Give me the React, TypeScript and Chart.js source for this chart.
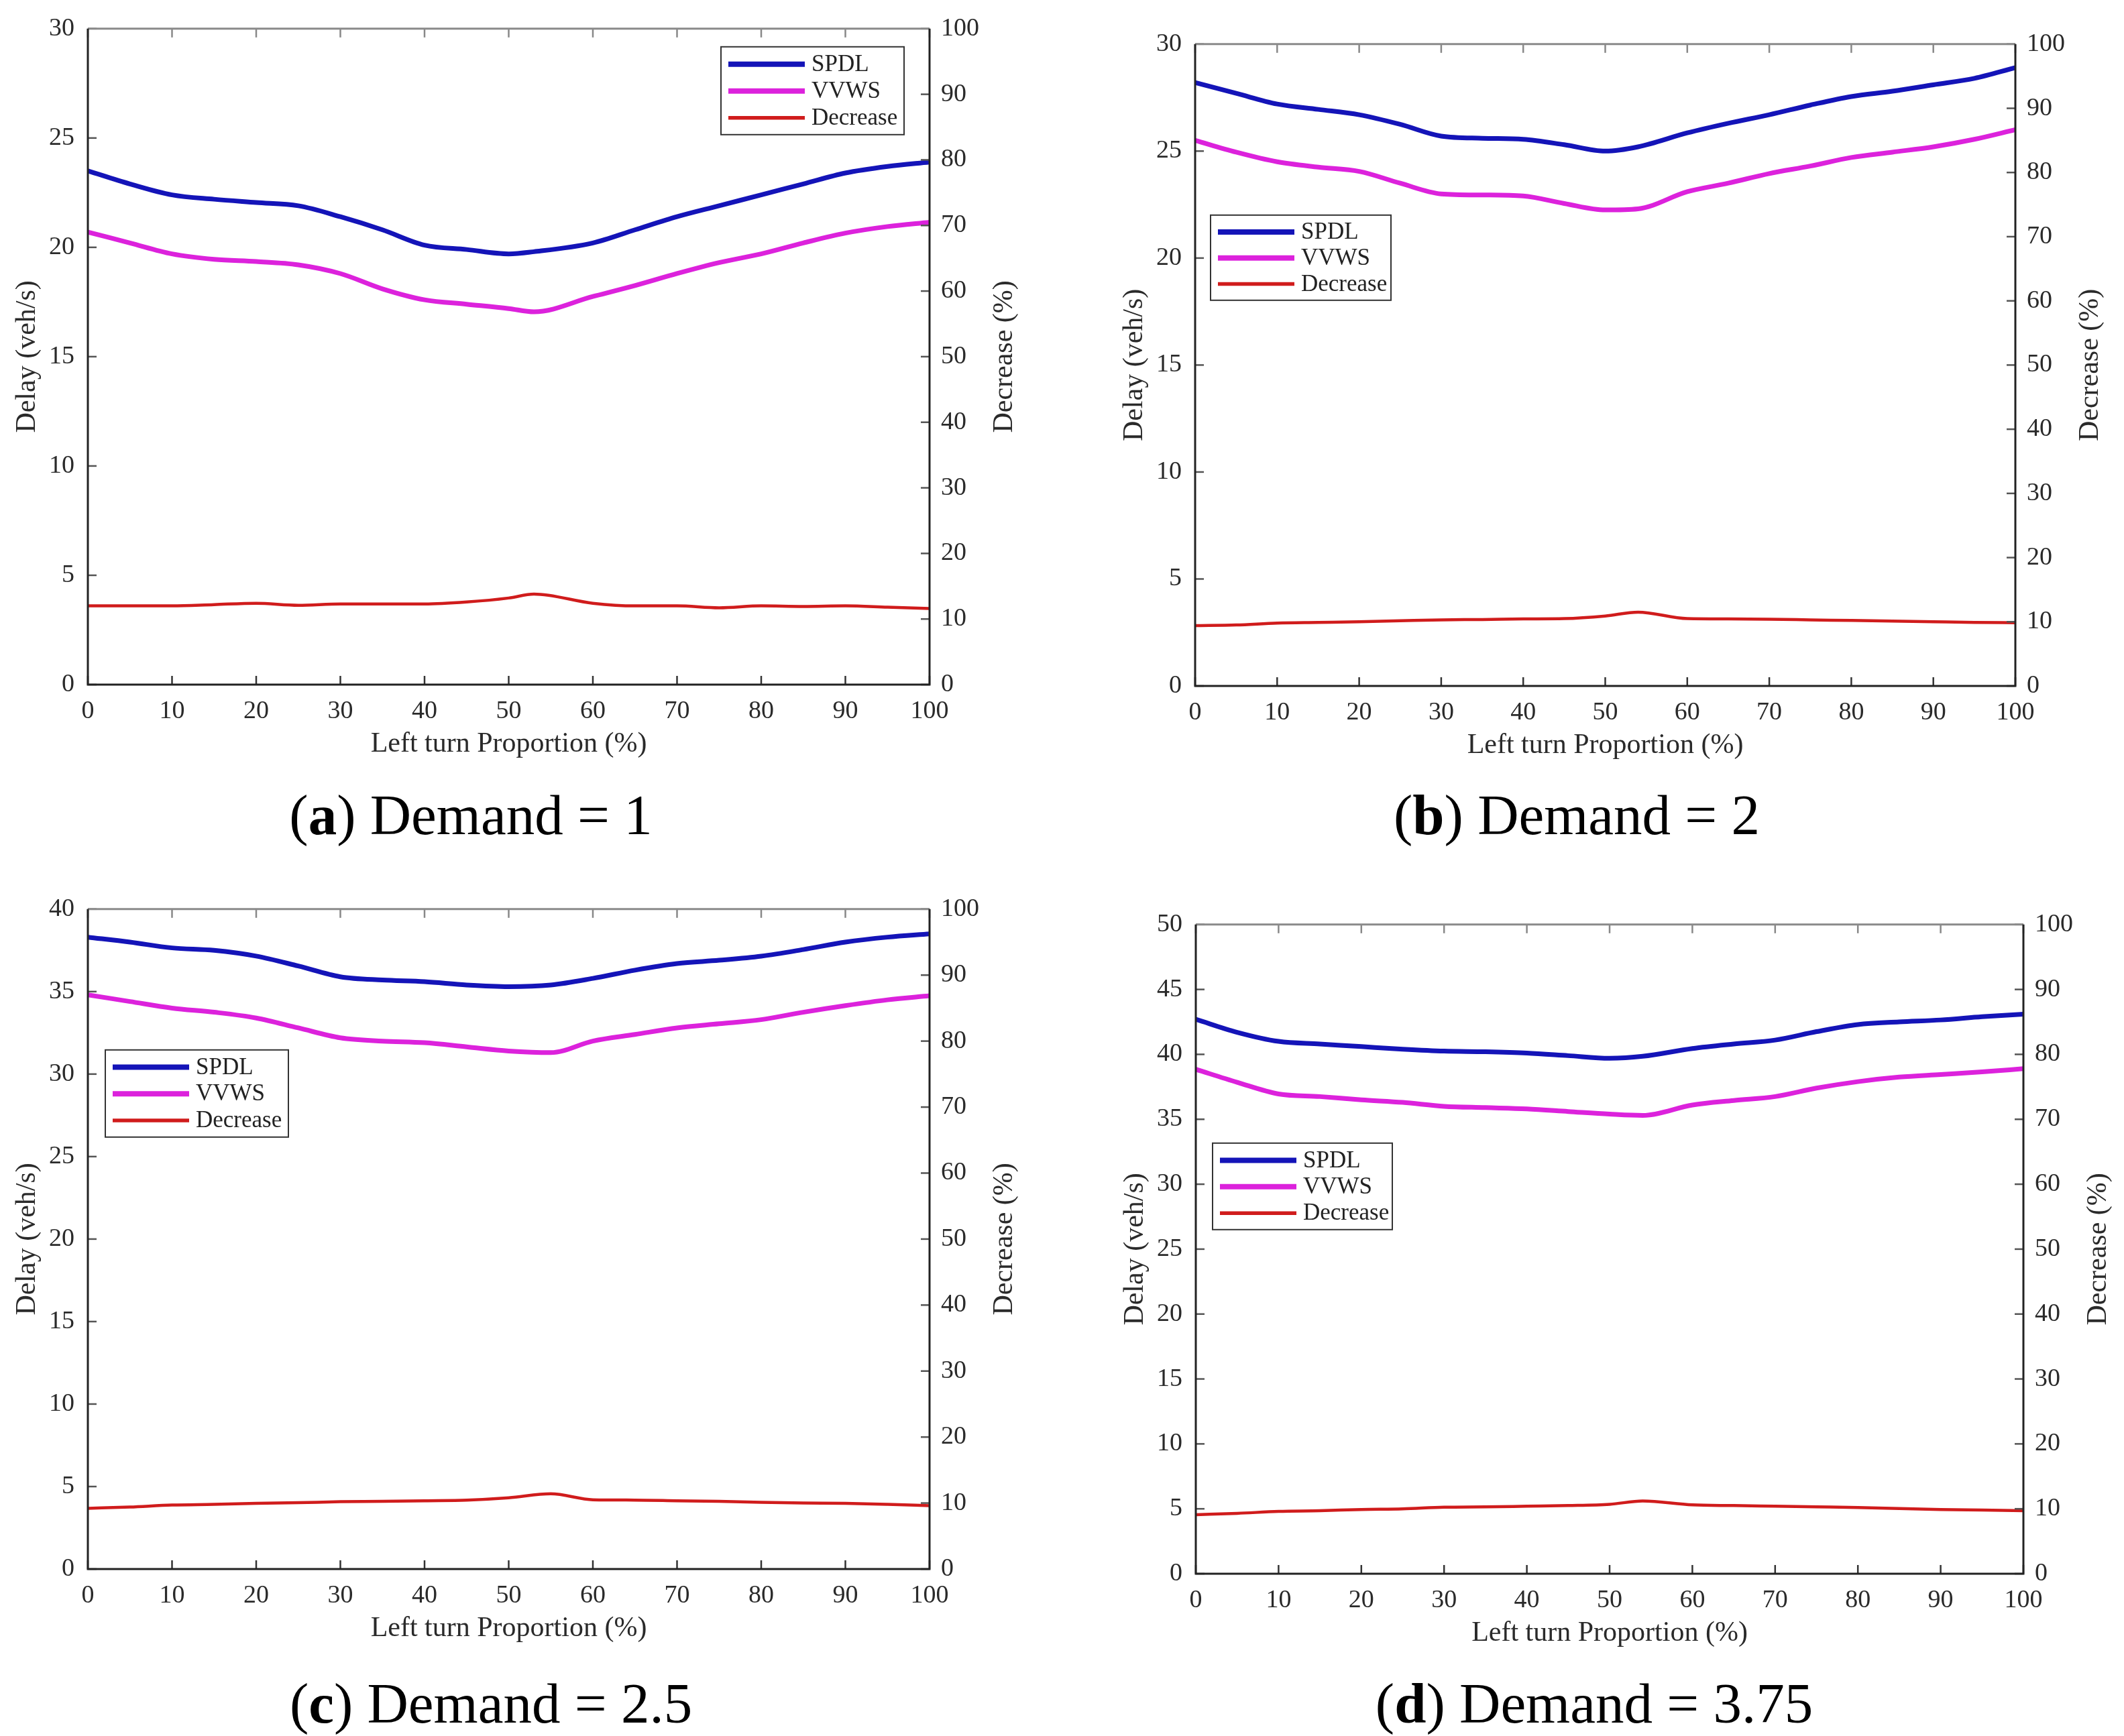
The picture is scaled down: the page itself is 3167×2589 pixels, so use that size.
import React, { useEffect, useRef } from "react";
import { Chart, registerables } from "chart.js";

Chart.register(...registerables);

const FONT = '"Liberation Serif", "Times New Roman", Times, serif';

// Left turn proportion (%) — sampled points per panel (the kink sits near 53–55)
const xA = [0, 5, 10, 15, 20, 25, 30, 35, 40, 45, 50, 53, 60, 65, 70, 75, 80, 85, 90, 95, 100];
const xB = [0, 5, 10, 15, 20, 25, 30, 35, 40, 45, 50, 54, 60, 65, 70, 75, 80, 85, 90, 95, 100];
const xC = [0, 5, 10, 15, 20, 25, 30, 35, 40, 45, 50, 55, 60, 65, 70, 75, 80, 85, 90, 95, 100];
const xD = [0, 5, 10, 15, 20, 25, 30, 35, 40, 45, 50, 54, 60, 65, 70, 75, 80, 85, 90, 95, 100];

// (a) Demand = 1
const spdlA = [23.5, 22.9, 22.4, 22.2, 22.05, 21.9, 21.4, 20.8, 20.1, 19.9, 19.7, 19.8, 20.2, 20.8, 21.4, 21.9, 22.4, 22.9, 23.4, 23.7, 23.9];
const vvwsA = [20.7, 20.2, 19.7, 19.45, 19.35, 19.2, 18.8, 18.1, 17.6, 17.4, 17.2, 17.05, 17.75, 18.25, 18.8, 19.3, 19.7, 20.2, 20.65, 20.95, 21.15];
const decA = [12.0, 12.0, 12.0, 12.2, 12.4, 12.1, 12.3, 12.3, 12.3, 12.6, 13.2, 13.8, 12.4, 12.0, 12.0, 11.7, 12.0, 11.9, 12.0, 11.8, 11.6];

// (b) Demand = 2
const spdlB = [28.2, 27.7, 27.2, 26.95, 26.7, 26.25, 25.7, 25.6, 25.55, 25.3, 25.0, 25.2, 25.85, 26.3, 26.7, 27.15, 27.55, 27.8, 28.1, 28.4, 28.9];
const vvwsB = [25.5, 24.95, 24.5, 24.25, 24.05, 23.5, 23.0, 22.95, 22.9, 22.55, 22.25, 22.3, 23.1, 23.5, 23.95, 24.3, 24.7, 24.95, 25.2, 25.55, 26.0];
const decB = [9.4, 9.5, 9.8, 9.9, 10.0, 10.15, 10.3, 10.35, 10.45, 10.5, 10.9, 11.5, 10.5, 10.45, 10.4, 10.3, 10.2, 10.1, 10.0, 9.9, 9.85];

// (c) Demand = 2.5
const spdlC = [38.3, 38.0, 37.65, 37.5, 37.15, 36.55, 35.9, 35.7, 35.6, 35.4, 35.3, 35.4, 35.8, 36.3, 36.7, 36.9, 37.15, 37.55, 38.0, 38.3, 38.5];
const vvwsC = [34.8, 34.4, 34.0, 33.75, 33.4, 32.8, 32.2, 32.0, 31.9, 31.65, 31.4, 31.3, 32.0, 32.4, 32.8, 33.05, 33.3, 33.75, 34.15, 34.5, 34.75];
const decC = [9.2, 9.4, 9.7, 9.8, 9.95, 10.05, 10.2, 10.25, 10.35, 10.45, 10.8, 11.4, 10.5, 10.45, 10.35, 10.25, 10.1, 10.0, 9.95, 9.8, 9.6];

// (d) Demand = 3.75
const spdlD = [42.7, 41.7, 41.0, 40.8, 40.6, 40.4, 40.25, 40.2, 40.1, 39.9, 39.7, 39.85, 40.45, 40.8, 41.1, 41.75, 42.3, 42.5, 42.65, 42.9, 43.1];
const vvwsD = [38.85, 37.85, 36.95, 36.75, 36.5, 36.3, 36.0, 35.9, 35.8, 35.6, 35.4, 35.3, 36.1, 36.45, 36.75, 37.4, 37.9, 38.25, 38.45, 38.65, 38.9];
const decD = [9.1, 9.3, 9.6, 9.7, 9.9, 10.0, 10.25, 10.3, 10.4, 10.5, 10.7, 11.2, 10.6, 10.5, 10.4, 10.3, 10.2, 10.05, 9.9, 9.8, 9.7];

const SERIES_NAMES = ["SPDL", "VVWS", "Decrease"];
const COLORS = ["#1414b8", "#dc22dc", "#d01c1c"];
const WIDTHS = [7, 7, 4.5];

const X_TITLE = "Left turn Proportion (%)";
const Y_TITLE = "Delay (veh/s)";
const Y1_TITLE = "Decrease (%)";

// Layout (page pixels): plot-area edges, legend placement, caption.
const PANELS = [
  { letter: "a", demand: "1", x: xA, spdl: spdlA, vvws: vvwsA, dec: decA, yMax: 30,
    L: 131, R: 1386, T: 34, B: 1021,
    legend: { right: 38, top: 27, w: 273, h: 131 }, cap: { x: 702, y: 1215 } },
  { letter: "b", demand: "2", x: xB, spdl: spdlB, vvws: vvwsB, dec: decB, yMax: 30,
    L: 1782, R: 3005, T: 57, B: 1023,
    legend: { left: 23, top: 255, w: 269, h: 127 }, cap: { x: 2351, y: 1215 } },
  { letter: "c", demand: "2.5", x: xC, spdl: spdlC, vvws: vvwsC, dec: decC, yMax: 40,
    L: 131, R: 1386, T: 1347, B: 2340,
    legend: { left: 26, top: 210, w: 273, h: 130 }, cap: { x: 732, y: 2540 } },
  { letter: "d", demand: "3.75", x: xD, spdl: spdlD, vvws: vvwsD, dec: decD, yMax: 50,
    L: 1783, R: 3017, T: 1370, B: 2347,
    legend: { left: 25, top: 326, w: 268, h: 129 }, cap: { x: 2377, y: 2540 } },
];

const LEFT_W = 131;
const RIGHT_W = 200;
const TOP_PAD = 34;
const BOTTOM_H = 140;

const framePlugin = {
  id: "frame",
  afterDraw(chart: any, _args: any, opts: any) {
    const { ctx } = chart;
    const { left, right, top, bottom } = chart.chartArea;
    const xs = chart.scales.x;
    const yl = chart.scales.y;
    const yr = chart.scales.y1;
    const TL = 13;
    ctx.save();
    ctx.lineCap = "butt";
    ctx.lineWidth = 2.5;
    xs.ticks.forEach((t: any) => {
      const px = xs.getPixelForValue(t.value);
      ctx.strokeStyle = "#333";
      ctx.beginPath();
      ctx.moveTo(px, bottom);
      ctx.lineTo(px, bottom - TL);
      ctx.stroke();
      ctx.strokeStyle = "#888";
      ctx.beginPath();
      ctx.moveTo(px, top);
      ctx.lineTo(px, top + TL);
      ctx.stroke();
    });
    ctx.strokeStyle = "#555";
    yl.ticks.forEach((t: any) => {
      const py = yl.getPixelForValue(t.value);
      ctx.beginPath();
      ctx.moveTo(left, py);
      ctx.lineTo(left + TL, py);
      ctx.stroke();
    });
    yr.ticks.forEach((t: any) => {
      const py = yr.getPixelForValue(t.value);
      ctx.beginPath();
      ctx.moveTo(right, py);
      ctx.lineTo(right - TL, py);
      ctx.stroke();
    });
    ctx.lineWidth = 3;
    ctx.strokeStyle = "#8a8a8a";
    ctx.beginPath();
    ctx.moveTo(left, top);
    ctx.lineTo(right, top);
    ctx.stroke();
    ctx.strokeStyle = "#222";
    ctx.beginPath();
    ctx.moveTo(left, top);
    ctx.lineTo(left, bottom);
    ctx.lineTo(right, bottom);
    ctx.lineTo(right, top);
    ctx.stroke();

    ctx.fillStyle = "#2a2a2a";
    ctx.font = `42px ${FONT}`;
    ctx.textAlign = "center";
    ctx.textBaseline = "middle";
    ctx.fillText(X_TITLE, (left + right) / 2, bottom + 89);
    const midY = (top + bottom) / 2;
    ctx.save();
    ctx.translate(left - 90, midY);
    ctx.rotate(-Math.PI / 2);
    ctx.fillText(Y_TITLE, 0, 0);
    ctx.restore();
    ctx.save();
    ctx.translate(right + 112, midY);
    ctx.rotate(-Math.PI / 2);
    ctx.fillText(Y1_TITLE, 0, 0);
    ctx.restore();

    const lg = opts.legend;
    const bx = lg.left !== undefined ? left + lg.left : right - lg.right - lg.w;
    const by = top + lg.top;
    ctx.fillStyle = "#fff";
    ctx.fillRect(bx, by, lg.w, lg.h);
    ctx.lineWidth = 2;
    ctx.strokeStyle = "#333";
    ctx.strokeRect(bx, by, lg.w, lg.h);
    const rows = [26, 66, 106];
    ctx.font = `35px ${FONT}`;
    ctx.textAlign = "left";
    ctx.textBaseline = "middle";
    SERIES_NAMES.forEach((name, i) => {
      const ry = by + rows[i] * (lg.h / 131);
      ctx.strokeStyle = COLORS[i];
      ctx.lineWidth = WIDTHS[i] + 1;
      ctx.beginPath();
      ctx.moveTo(bx + 11, ry);
      ctx.lineTo(bx + 125, ry);
      ctx.stroke();
      ctx.fillStyle = "#222";
      ctx.fillText(name, bx + 135, ry + 1);
    });
    ctx.restore();
  },
};

function Panel({ p }: { p: any }) {
  const ref = useRef<HTMLCanvasElement | null>(null);
  const cw = p.R - p.L + LEFT_W + RIGHT_W;
  const ch = p.B - p.T + TOP_PAD + BOTTOM_H;
  useEffect(() => {
    if (!ref.current) return;
    let alive = true;
    const tickFont = { family: FONT, size: 38 };
    const pts = (arr: number[]) => p.x.map((x: number, i: number) => ({ x, y: arr[i] }));
    const chart = new Chart(ref.current, {
      type: "line",
      data: {
        datasets: [
          { label: SERIES_NAMES[0], data: pts(p.spdl), yAxisID: "y", borderColor: COLORS[0], borderWidth: WIDTHS[0] },
          { label: SERIES_NAMES[1], data: pts(p.vvws), yAxisID: "y", borderColor: COLORS[1], borderWidth: WIDTHS[1] },
          { label: SERIES_NAMES[2], data: pts(p.dec), yAxisID: "y1", borderColor: COLORS[2], borderWidth: WIDTHS[2] },
        ],
      },
      options: {
        animation: false,
        responsive: false,
        devicePixelRatio: 1,
        layout: { padding: { top: TOP_PAD, left: 0, right: 0, bottom: 0 } },
        elements: {
          point: { radius: 0, hoverRadius: 0 },
          line: { cubicInterpolationMode: "monotone", fill: false, borderCapStyle: "round", borderJoinStyle: "round" },
        },
        plugins: {
          legend: { display: false },
          tooltip: { enabled: false },
          frame: { legend: p.legend },
        } as any,
        scales: {
          x: {
            type: "linear",
            position: "bottom",
            min: 0,
            max: 100,
            ticks: { stepSize: 10, font: tickFont, color: "#2a2a2a", padding: 17, maxRotation: 0, autoSkip: false },
            grid: { display: false, drawTicks: false },
            border: { display: false },
            afterFit: (s: any) => { s.height = BOTTOM_H; },
          },
          y: {
            type: "linear",
            position: "left",
            min: 0,
            max: p.yMax,
            ticks: { stepSize: 5, font: tickFont, color: "#2a2a2a", padding: 20 },
            grid: { display: false, drawTicks: false },
            border: { display: false },
            afterFit: (s: any) => { s.width = LEFT_W; },
          },
          y1: {
            type: "linear",
            position: "right",
            min: 0,
            max: 100,
            ticks: { stepSize: 10, font: tickFont, color: "#2a2a2a", padding: 17 },
            grid: { display: false, drawTicks: false },
            border: { display: false },
            afterFit: (s: any) => { s.width = RIGHT_W; },
          },
        },
      } as any,
      plugins: [framePlugin as any],
    });
    const fonts = (document as any).fonts;
    if (fonts && fonts.load) {
      Promise.all([
        fonts.load(`38px "Liberation Serif"`),
        fonts.load(`42px "Liberation Serif"`),
      ])
        .then(() => { if (alive) chart.update(); })
        .catch(() => {});
    }
    return () => {
      alive = false;
      chart.destroy();
    };
  }, []);
  return (
    <canvas
      ref={ref}
      width={cw}
      height={ch}
      style={{ position: "absolute", left: p.L - LEFT_W, top: p.T - TOP_PAD, width: cw, height: ch }}
    />
  );
}

export default function App() {
  return (
    <div style={{ position: "absolute", left: 0, top: 0, width: 3167, height: 2589, background: "#fff", overflow: "hidden" }}>
      {PANELS.map((p) => (
        <React.Fragment key={p.letter}>
          <Panel p={p} />
          <div
            style={{
              position: "absolute",
              left: p.cap.x,
              top: p.cap.y,
              transform: "translate(-50%, -50%)",
              fontFamily: FONT,
              fontSize: 85,
              lineHeight: 1,
              whiteSpace: "nowrap",
              color: "#000",
            }}
          >
            (<b>{p.letter}</b>) Demand = {p.demand}
          </div>
        </React.Fragment>
      ))}
    </div>
  );
}
